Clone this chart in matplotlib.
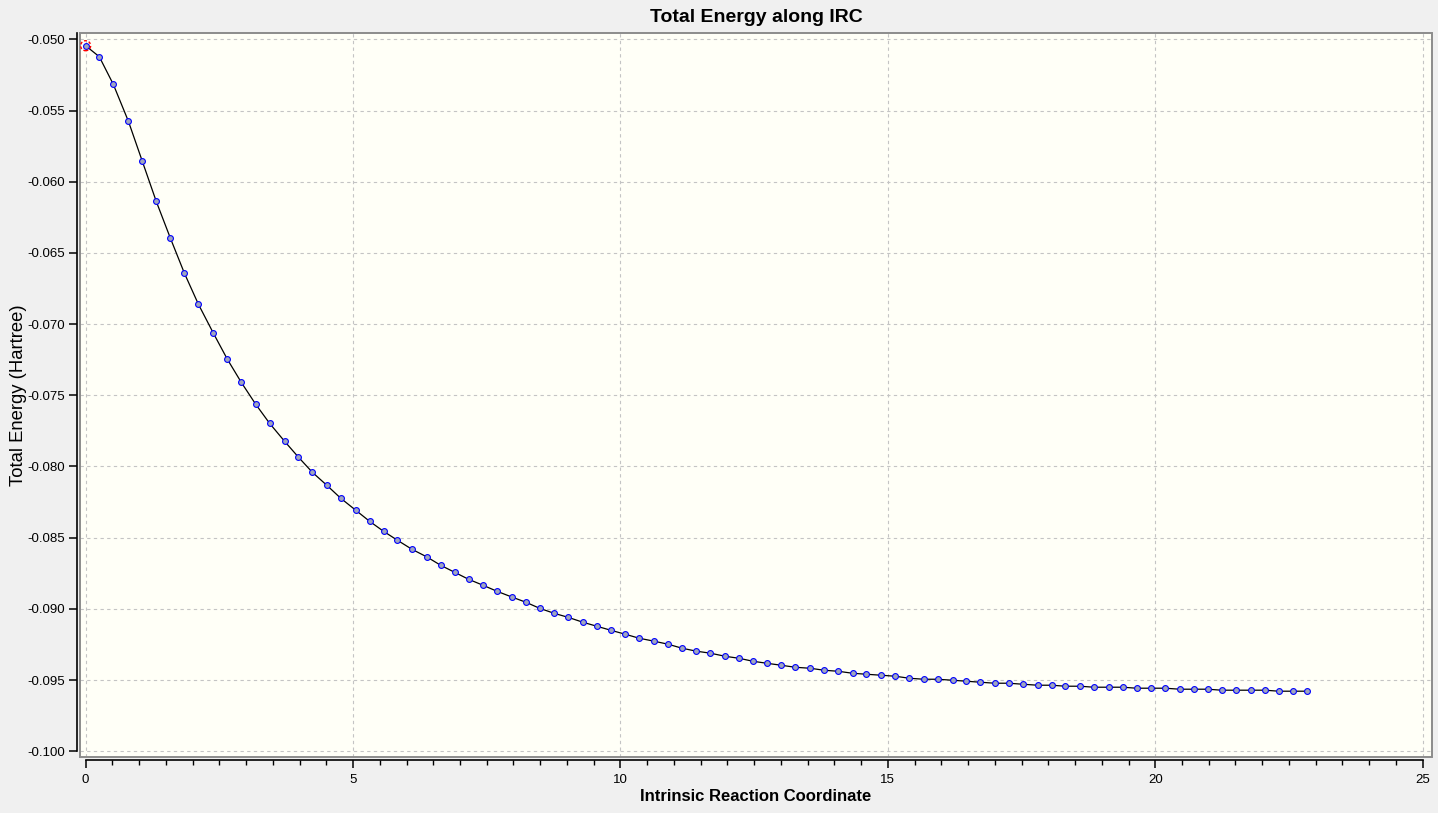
import numpy as np
import matplotlib
matplotlib.use("Agg")
import matplotlib.pyplot as plt
from matplotlib.patches import Rectangle
from matplotlib.ticker import MultipleLocator, FormatStrFormatter

plt.rcParams['font.family'] = ['Liberation Sans', 'DejaVu Sans']

# IRC points
irc = [0.00, 0.255, 0.517, 0.80, 1.06, 1.32, 1.585, 1.847, 2.109, 2.39,
       2.65, 2.91, 3.18, 3.44, 3.72, 3.98, 4.24, 4.51, 4.77, 5.05,
       5.31, 5.57, 5.83, 6.10, 6.38, 6.64, 6.90, 7.16, 7.43, 7.69,
       7.965, 8.23, 8.49, 8.76, 9.02, 9.30, 9.56, 9.82, 10.09, 10.35,
       10.63, 10.89, 11.15, 11.42, 11.68, 11.96, 12.22, 12.48, 12.74, 13.01,
       13.27, 13.55, 13.81, 14.07, 14.34, 14.60, 14.88, 15.14, 15.40, 15.67,
       15.93, 16.21, 16.47, 16.73, 17.00, 17.26, 17.52, 17.80, 18.06, 18.32,
       18.59, 18.85, 19.13, 19.39, 19.65, 19.92, 20.18, 20.46, 20.72, 20.98,
       21.24, 21.51, 21.79, 22.05, 22.31, 22.57, 22.83]
energy = [-0.05045, -0.05122, -0.05316, -0.05576, -0.05857, -0.06138, -0.06397, -0.06643, -0.06861, -0.07065,
          -0.07247, -0.07409, -0.07563, -0.07697, -0.07823, -0.07935, -0.08041, -0.08132, -0.08223, -0.08307,
          -0.08385, -0.08455, -0.08518, -0.08581, -0.08635, -0.08694, -0.08743, -0.08792, -0.08834, -0.08876,
          -0.08916, -0.08953, -0.08996, -0.09031, -0.09059, -0.09094, -0.09122, -0.09150, -0.09178, -0.09206,
          -0.09227, -0.09248, -0.09276, -0.09297, -0.09311, -0.09333, -0.09347, -0.09368, -0.09382, -0.09396,
          -0.09410, -0.09417, -0.09431, -0.09438, -0.09452, -0.09459, -0.09466, -0.09473, -0.09487, -0.09494,
          -0.09494, -0.09501, -0.09508, -0.09515, -0.09522, -0.09522, -0.09529, -0.09536, -0.09536, -0.09543,
          -0.09543, -0.09550, -0.09550, -0.09550, -0.09557, -0.09557, -0.09557, -0.09564, -0.09564, -0.09564,
          -0.09571, -0.09571, -0.09571, -0.09571, -0.09578, -0.09578, -0.09578]

fig = plt.figure(figsize=(14.38, 8.13), dpi=100, facecolor='#F0F0F0')
ax = fig.add_axes([0.0558, 0.0689, 0.9400, 0.8901])
ax.set_facecolor('#FFFFF7')

ax.plot(irc, energy, color='black', lw=0.9, zorder=3)
ax.plot(irc, energy, ls='none', marker='o', ms=4.2, mfc='#A0A6BC',
        mec='#0000FF', mew=0.8, zorder=4)
# highlighted current point
ax.scatter([irc[0]], [energy[0]], s=52, facecolors='none', edgecolors='red',
           linestyles=(0, (2, 1.5)), linewidths=1.0, zorder=7, clip_on=False)

ax.set_xlim(-0.101, 25.174)
ax.set_ylim(-0.1004, -0.04958)

ax.xaxis.set_major_locator(MultipleLocator(5))
ax.xaxis.set_minor_locator(MultipleLocator(0.5))
ax.yaxis.set_major_locator(MultipleLocator(0.005))
ax.yaxis.set_major_formatter(FormatStrFormatter('%.3f'))

ax.grid(True, which='major', ls=(0, (3, 3)), color='#C4C4C4', lw=0.8)
ax.set_axisbelow(True)

for s in ['top', 'right']:
    ax.spines[s].set_visible(False)
ax.spines['left'].set_position(('outward', 2.2))
ax.spines['bottom'].set_position(('outward', 2.4))
ax.spines['left'].set_bounds(-0.100, -0.04958)
ax.spines['bottom'].set_bounds(0, 25)
ax.spines['left'].set_linewidth(1.2)
ax.spines['bottom'].set_linewidth(1.2)

# grey frame round the plotting area
ax.add_patch(Rectangle((0, 0), 1, 1, transform=ax.transAxes, fill=False,
                       edgecolor='#8C8C8C', lw=1.4, clip_on=False, zorder=6))

ax.tick_params(axis='both', which='major', length=5.8, width=1.1, labelsize=9.5)
ax.tick_params(axis='y', which='major', pad=2.8)
ax.tick_params(axis='x', which='major', pad=4)
ax.tick_params(axis='x', which='minor', length=3.8, width=1.0)

ax.set_title('Total Energy along IRC', fontsize=14, fontweight='bold', pad=8)
ax.set_xlabel('Intrinsic Reaction Coordinate', fontsize=12, fontweight='bold', labelpad=2)
ax.set_ylabel('Total Energy (Hartree)', fontsize=13.3, labelpad=0)

fig.savefig('out.png', dpi=100, facecolor=fig.get_facecolor())
